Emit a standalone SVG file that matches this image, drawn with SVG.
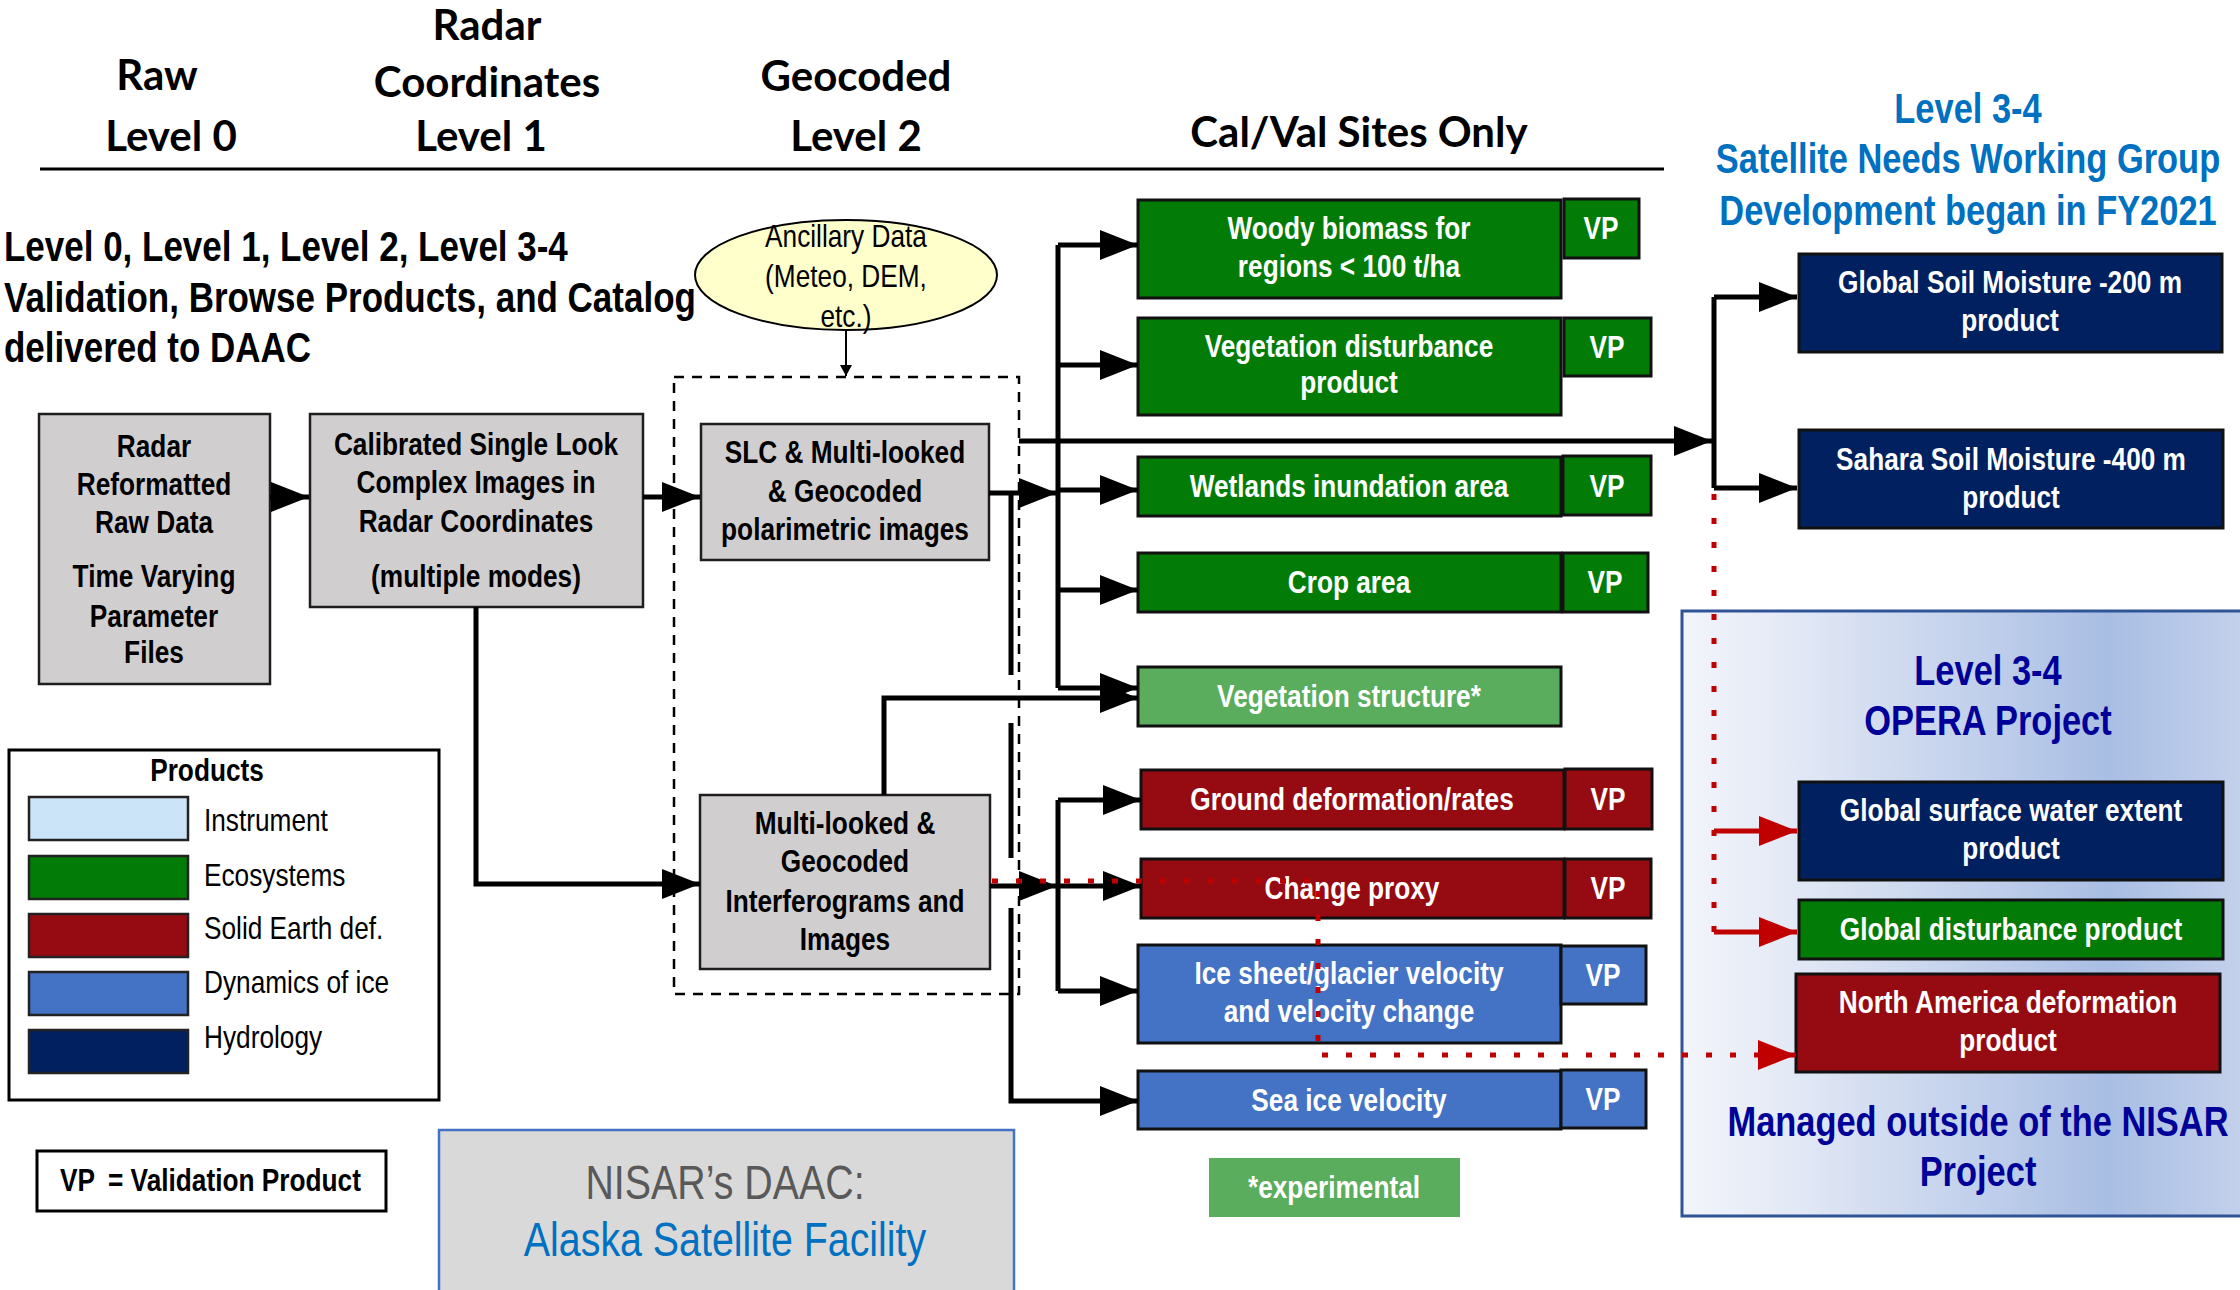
<svg xmlns="http://www.w3.org/2000/svg" width="2240" height="1290" viewBox="0 0 2240 1290">
<defs>
<style>
text{font-family:'Liberation Sans','Arial',sans-serif;font-size:32px;text-anchor:middle}
.b{font-weight:bold}
.w{fill:#fff}
.hd{font-family:Lato,'Liberation Sans',sans-serif;font-weight:bold;font-size:42px;fill:#000}
.big{font-size:42px;font-weight:bold}
.f48{font-size:48px}
.st{text-anchor:start}
.gray{fill:#D0CECE;stroke:#1e1e1e;stroke-width:2.5}
.grn{fill:#037C07;stroke:#111;stroke-width:3}
.lg{fill:#5BAD5E;stroke:#111;stroke-width:3}
.red{fill:#960A12;stroke:#111;stroke-width:3}
.ice{fill:#4472C4;stroke:#111;stroke-width:3}
.nav{fill:#002060;stroke:#111;stroke-width:3}
.c{fill:none;stroke:#000;stroke-width:5}
.rd{fill:none;stroke:#C00000;stroke-width:5;stroke-dasharray:6 18}
.rs{fill:none;stroke:#C00000;stroke-width:5}
</style>
<marker id="ah" markerUnits="userSpaceOnUse" markerWidth="40" markerHeight="30" refX="38" refY="15" orient="auto"><path d="M0,0 L38,15 L0,30 z" fill="#000"/></marker>
<marker id="ahr" markerUnits="userSpaceOnUse" markerWidth="40" markerHeight="30" refX="38" refY="15" orient="auto"><path d="M0,0 L38,15 L0,30 z" fill="#C00000"/></marker>
<marker id="ahs" markerUnits="userSpaceOnUse" markerWidth="12" markerHeight="12" refX="11" refY="6" orient="auto"><path d="M0,0 L11,6 L0,12 z" fill="#000"/></marker>
<linearGradient id="og" x1="0" y1="0" x2="1" y2="0">
<stop offset="0" stop-color="#F3F5FB"/>
<stop offset="0.2" stop-color="#E2E8F5"/>
<stop offset="0.75" stop-color="#A9BEE4"/>
<stop offset="1" stop-color="#C5D2EC"/>
</linearGradient>
</defs>
<rect width="2240" height="1290" fill="#fff"/>

<g id="header">
<text class="hd" x="157" y="90">Raw</text>
<text class="hd" x="171" y="151">Level 0</text>
<text class="hd" x="487" y="40">Radar</text>
<text class="hd" x="487" y="97">Coordinates</text>
<text class="hd" x="481" y="151">Level 1</text>
<text class="hd" x="856" y="91">Geocoded</text>
<text class="hd" x="856" y="151">Level 2</text>
<text class="hd" x="1359" y="147">Cal/Val Sites Only</text>
<line x1="40" y1="169" x2="1664" y2="169" stroke="#000" stroke-width="3"/>
</g>

<g id="intro">
<text class="big st" transform="translate(4,261) scale(.833,1)">Level 0, Level 1, Level 2, Level 3-4</text>
<text class="big st" transform="translate(4,312) scale(.833,1)">Validation, Browse Products, and Catalog</text>
<text class="big st" transform="translate(4,362) scale(.833,1)">delivered to DAAC</text>
</g>

<g id="opera-bg">
<rect x="1682" y="611" width="570" height="605" fill="url(#og)" stroke="#2F5597" stroke-width="3"/>
</g>

<g id="ancillary">
<ellipse cx="846" cy="275" rx="151" ry="55" fill="#FFFFCC" stroke="#000" stroke-width="2"/>
<text transform="translate(846,247) scale(.82,1)">Ancillary Data</text>
<text transform="translate(846,287) scale(.82,1)">(Meteo, DEM,</text>
<text transform="translate(846,327) scale(.82,1)">etc.)</text>
</g>

<g id="dashed-box">
<rect x="674" y="377" width="345" height="617" fill="none" stroke="#000" stroke-width="2.5" stroke-dasharray="10 8"/>
</g>

<g id="raw-data">
<rect class="gray" x="39" y="414" width="231" height="270"/>
<text class="b" transform="translate(154,457) scale(.82,1)">Radar</text>
<text class="b" transform="translate(154,495) scale(.82,1)">Reformatted</text>
<text class="b" transform="translate(154,533) scale(.82,1)">Raw Data</text>
<text class="b" transform="translate(154,587) scale(.82,1)">Time Varying</text>
<text class="b" transform="translate(154,627) scale(.82,1)">Parameter</text>
<text class="b" transform="translate(154,663) scale(.82,1)">Files</text>
</g>

<g id="slc-radar">
<rect class="gray" x="310" y="414" width="333" height="193"/>
<text class="b" transform="translate(476,455) scale(.82,1)">Calibrated Single Look</text>
<text class="b" transform="translate(476,493) scale(.82,1)">Complex Images in</text>
<text class="b" transform="translate(476,532) scale(.82,1)">Radar Coordinates</text>
<text class="b" transform="translate(476,587) scale(.82,1)">(multiple modes)</text>
</g>

<g id="slc-geocoded">
<rect class="gray" x="701" y="424" width="288" height="136"/>
<text class="b" transform="translate(845,463) scale(.82,1)">SLC &amp; Multi-looked</text>
<text class="b" transform="translate(845,502) scale(.82,1)">&amp; Geocoded</text>
<text class="b" transform="translate(845,540) scale(.82,1)">polarimetric images</text>
</g>

<g id="interferograms">
<rect class="gray" x="700" y="795" width="290" height="174"/>
<text class="b" transform="translate(845,834) scale(.82,1)">Multi-looked &amp;</text>
<text class="b" transform="translate(845,872) scale(.82,1)">Geocoded</text>
<text class="b" transform="translate(845,912) scale(.82,1)">Interferograms and</text>
<text class="b" transform="translate(845,950) scale(.82,1)">Images</text>
</g>

<g id="woody">
<rect class="grn" x="1138" y="200" width="423" height="98"/>
<text class="b w" transform="translate(1349,239) scale(.82,1)">Woody biomass for</text>
<text class="b w" transform="translate(1349,277) scale(.82,1)">regions &lt; 100 t/ha</text>
<rect class="grn" x="1564" y="199" width="75" height="59"/>
<text class="b w" transform="translate(1601,239) scale(.82,1)">VP</text>
</g>

<g id="veg-dist">
<rect class="grn" x="1138" y="318" width="423" height="97"/>
<text class="b w" transform="translate(1349,357) scale(.82,1)">Vegetation disturbance</text>
<text class="b w" transform="translate(1349,393) scale(.82,1)">product</text>
<rect class="grn" x="1564" y="318" width="87" height="58"/>
<text class="b w" transform="translate(1607,358) scale(.82,1)">VP</text>
</g>

<g id="wetlands">
<rect class="grn" x="1138" y="457" width="423" height="59"/>
<text class="b w" transform="translate(1349,497) scale(.82,1)">Wetlands inundation area</text>
<rect class="grn" x="1563" y="456" width="88" height="59"/>
<text class="b w" transform="translate(1607,497) scale(.82,1)">VP</text>
</g>

<g id="crop">
<rect class="grn" x="1138" y="553" width="423" height="59"/>
<text class="b w" transform="translate(1349,593) scale(.82,1)">Crop area</text>
<rect class="grn" x="1563" y="553" width="85" height="59"/>
<text class="b w" transform="translate(1605,593) scale(.82,1)">VP</text>
</g>

<g id="veg-structure">
<rect class="lg" x="1138" y="667" width="423" height="59"/>
<text class="b w" transform="translate(1349,707) scale(.82,1)">Vegetation structure*</text>
</g>

<g id="ground-def">
<rect class="red" x="1141" y="770" width="423" height="59"/>
<text class="b w" transform="translate(1352,810) scale(.82,1)">Ground deformation/rates</text>
<rect class="red" x="1565" y="769" width="87" height="60"/>
<text class="b w" transform="translate(1608,810) scale(.82,1)">VP</text>
</g>

<g id="change-proxy">
<rect class="red" x="1141" y="859" width="423" height="59"/>
<text class="b w" transform="translate(1352,899) scale(.82,1)">Change proxy</text>
<rect class="red" x="1565" y="859" width="86" height="59"/>
<text class="b w" transform="translate(1608,899) scale(.82,1)">VP</text>
</g>

<g id="ice-sheet">
<rect class="ice" x="1138" y="945" width="423" height="98"/>
<text class="b w" transform="translate(1349,984) scale(.82,1)">Ice sheet/glacier velocity</text>
<text class="b w" transform="translate(1349,1022) scale(.82,1)">and velocity change</text>
<rect class="ice" x="1561" y="946" width="85" height="58"/>
<text class="b w" transform="translate(1603,986) scale(.82,1)">VP</text>
</g>

<g id="sea-ice">
<rect class="ice" x="1138" y="1071" width="423" height="58"/>
<text class="b w" transform="translate(1349,1111) scale(.82,1)">Sea ice velocity</text>
<rect class="ice" x="1561" y="1070" width="85" height="58"/>
<text class="b w" transform="translate(1603,1110) scale(.82,1)">VP</text>
</g>

<g id="experimental">
<rect x="1209" y="1158" width="251" height="59" fill="#5BAD5E"/>
<text class="b w" transform="translate(1334,1198) scale(.82,1)">*experimental</text>
</g>

<g id="snwg">
<text class="big" fill="#0070C0" transform="translate(1968,123) scale(.82,1)">Level 3-4</text>
<text class="big" fill="#0070C0" transform="translate(1968,173) scale(.82,1)">Satellite Needs Working Group</text>
<text class="big" fill="#0070C0" transform="translate(1968,225) scale(.82,1)">Development began in FY2021</text>
</g>

<g id="global-soil">
<rect class="nav" x="1799" y="254" width="423" height="98"/>
<text class="b w" transform="translate(2010,293) scale(.82,1)">Global Soil Moisture -200 m</text>
<text class="b w" transform="translate(2010,331) scale(.82,1)">product</text>
</g>

<g id="sahara-soil">
<rect class="nav" x="1799" y="430" width="424" height="98"/>
<text class="b w" transform="translate(2011,470) scale(.82,1)">Sahara Soil Moisture -400 m</text>
<text class="b w" transform="translate(2011,508) scale(.82,1)">product</text>
</g>

<g id="opera">
<text class="big" fill="#000099" transform="translate(1988,685) scale(.82,1)">Level 3-4</text>
<text class="big" fill="#000099" transform="translate(1988,735) scale(.82,1)">OPERA Project</text>
<text class="big" fill="#000099" transform="translate(1978,1136) scale(.82,1)">Managed outside of the NISAR</text>
<text class="big" fill="#000099" transform="translate(1978,1186) scale(.82,1)">Project</text>
</g>

<g id="surface-water">
<rect class="nav" x="1799" y="782" width="424" height="98"/>
<text class="b w" transform="translate(2011,821) scale(.82,1)">Global surface water extent</text>
<text class="b w" transform="translate(2011,859) scale(.82,1)">product</text>
</g>

<g id="global-disturbance">
<rect class="grn" x="1799" y="900" width="424" height="59"/>
<text class="b w" transform="translate(2011,940) scale(.82,1)">Global disturbance product</text>
</g>

<g id="na-deformation">
<rect class="red" x="1796" y="974" width="424" height="98"/>
<text class="b w" transform="translate(2008,1013) scale(.82,1)">North America deformation</text>
<text class="b w" transform="translate(2008,1051) scale(.82,1)">product</text>
</g>

<g id="legend">
<rect x="9" y="750" width="430" height="350" fill="#fff" stroke="#000" stroke-width="3"/>
<text class="b" transform="translate(207,781) scale(.82,1)">Products</text>
<rect x="29" y="797" width="159" height="43" fill="#CCE4F7" stroke="#222" stroke-width="2.5"/>
<rect x="29" y="856" width="159" height="43" fill="#037C07" stroke="#222" stroke-width="2.5"/>
<rect x="29" y="914" width="159" height="43" fill="#960A12" stroke="#222" stroke-width="2.5"/>
<rect x="29" y="972" width="159" height="43" fill="#4472C4" stroke="#222" stroke-width="2.5"/>
<rect x="29" y="1030" width="159" height="43" fill="#002060" stroke="#222" stroke-width="2.5"/>
<text class="st" transform="translate(204,831) scale(.82,1)">Instrument</text>
<text class="st" transform="translate(204,886) scale(.82,1)">Ecosystems</text>
<text class="st" transform="translate(204,939) scale(.82,1)">Solid Earth def.</text>
<text class="st" transform="translate(204,993) scale(.82,1)">Dynamics of ice</text>
<text class="st" transform="translate(204,1048) scale(.82,1)">Hydrology</text>
</g>

<g id="vp-legend">
<rect x="37" y="1151" width="349" height="60" fill="#fff" stroke="#000" stroke-width="3"/>
<text class="b st" transform="translate(60,1191) scale(.82,1)">VP</text>
<text class="b st" transform="translate(108,1191) scale(.82,1)">= Validation Product</text>
</g>

<g id="daac">
<rect x="439" y="1130" width="575" height="175" fill="#D9D9D9" stroke="#4472C4" stroke-width="2.5"/>
<text class="f48" fill="#595959" transform="translate(725,1199) scale(.82,1)">NISAR’s DAAC:</text>
<text class="f48" fill="#0070C0" transform="translate(725,1256) scale(.82,1)">Alaska Satellite Facility</text>
</g>

<g id="connectors">
<path class="c" d="M270,497 H309" marker-end="url(#ah)"/>
<path class="c" d="M643,497 H700" marker-end="url(#ah)"/>
<path class="c" d="M476,607 V884 H700" marker-end="url(#ah)"/>
<path d="M846,331 V376" stroke="#000" stroke-width="2" fill="none" marker-end="url(#ahs)"/>
<path class="c" d="M989,493 H1057" marker-end="url(#ah)"/>
<path class="c" d="M1011,491 V675"/>
<path class="c" d="M1011,723 V858"/>
<path class="c" d="M1011,908 V1101 H1138" marker-end="url(#ah)"/>
<path class="c" d="M1058,245 V688"/>
<path class="c" d="M1058,245 H1138" marker-end="url(#ah)"/>
<path class="c" d="M1058,365 H1138" marker-end="url(#ah)"/>
<path class="c" d="M1058,490 H1138" marker-end="url(#ah)"/>
<path class="c" d="M1058,590 H1138" marker-end="url(#ah)"/>
<path class="c" d="M1058,688 H1138" marker-end="url(#ah)"/>
<path class="c" d="M884,795 V698 H1138" marker-end="url(#ah)"/>
<path class="c" d="M990,886 H1057" marker-end="url(#ah)"/>
<path class="c" d="M1058,800 V991"/>
<path class="c" d="M1058,800 H1141" marker-end="url(#ah)"/>
<path class="c" d="M1058,886 H1141" marker-end="url(#ah)"/>
<path class="c" d="M1058,991 H1138" marker-end="url(#ah)"/>
<path class="c" d="M1019,441 H1712" marker-end="url(#ah)"/>
<path class="c" d="M1714,297 V488"/>
<path class="c" d="M1714,297 H1797" marker-end="url(#ah)"/>
<path class="c" d="M1714,488 H1797" marker-end="url(#ah)"/>
<path class="rd" d="M1714,494 V932"/>
<path class="rs" d="M1714,831 H1797" marker-end="url(#ahr)"/>
<path class="rs" d="M1714,932 H1797" marker-end="url(#ahr)"/>
<path class="rd" d="M992,881 H1318 V1055 H1770"/>
<path class="rs" d="M1770,1055 H1796" marker-end="url(#ahr)"/>
</g>
</svg>
